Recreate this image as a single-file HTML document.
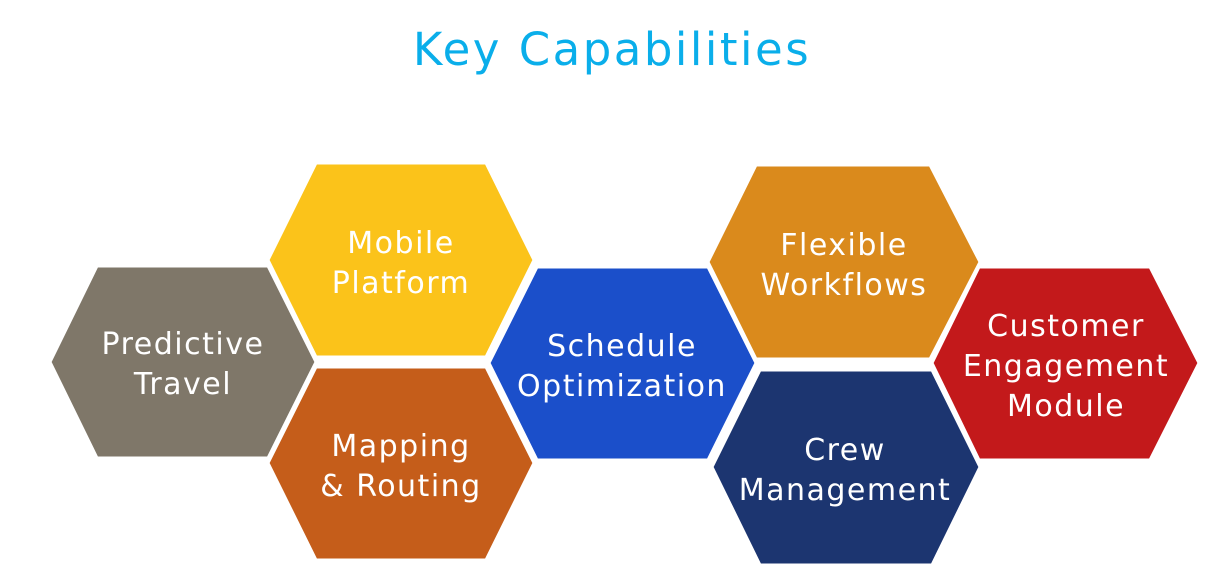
<!DOCTYPE html>
<html><head><meta charset="utf-8"><style>
html,body{margin:0;padding:0;background:#fff;}
svg{display:block}
text{font-family:"DejaVu Sans","Liberation Sans",sans-serif;fill:#fff;font-size:30px;letter-spacing:1.5px;text-anchor:middle}
</style></head><body>
<svg width="1223" height="566" viewBox="0 0 1223 566">
<text x="612" y="65" style="fill:#0aaeea;font-size:45px;letter-spacing:2.5px">Key Capabilities</text>
<g stroke="#fff" stroke-width="3">
<polygon fill="#7f7769" points="97,266 268,266 316,362 268,458 97,458 50,362"/>
<polygon fill="#fbc31a" points="316,163 486,163 534,260 486,357 316,357 268,260"/>
<polygon fill="#c55d1a" points="316,367 486,367 534,463 486,560 316,560 268,463"/>
<polygon fill="#1b4fca" points="537,267 708,267 756,363 708,460 537,460 489,363"/>
<polygon fill="#da8a1c" points="756,165 930,165 980,262 930,359 756,359 708,262"/>
<polygon fill="#1c3570" points="760,370 932,370 980,467 932,565 760,565 712,467"/>
<polygon fill="#c3191b" points="979,267 1150,267 1199,363 1150,460 979,460 932,363"/>
</g>
<text x="183" y="354">Predictive</text><text x="183" y="394">Travel</text>
<text x="401" y="253">Mobile</text><text x="401" y="293">Platform</text>
<text x="401" y="456">Mapping</text><text x="401" y="496">&amp; Routing</text>
<text x="622" y="356">Schedule</text><text x="622" y="396">Optimization</text>
<text x="844" y="255">Flexible</text><text x="844" y="295">Workflows</text>
<text x="845" y="460">Crew</text><text x="845" y="500">Management</text>
<text x="1066" y="336">Customer</text><text x="1066" y="376">Engagement</text><text x="1066" y="416">Module</text>
</svg>
</body></html>
